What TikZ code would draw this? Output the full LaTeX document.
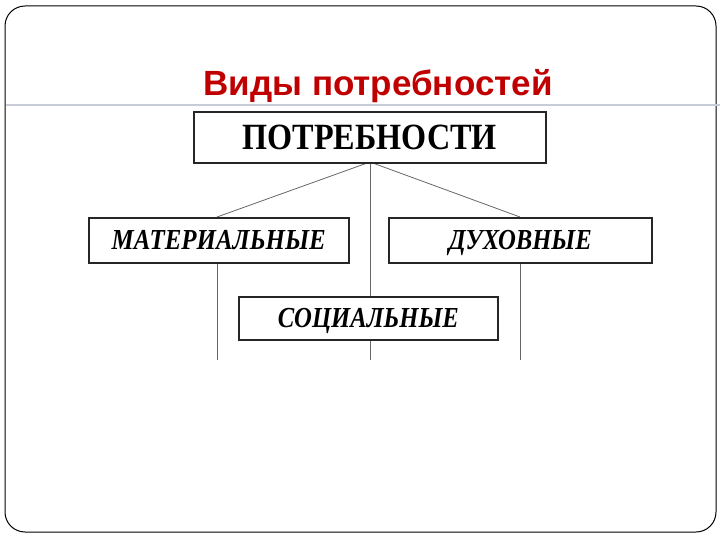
\documentclass[tikz,border=0pt]{standalone}
\usepackage{fontspec}
\setmainfont{Liberation Serif}
\newfontfamily\titlefont{Liberation Sans}
\definecolor{titlered}{RGB}{192,0,0}
\definecolor{sepline}{RGB}{200,204,216}
\begin{document}
\begin{tikzpicture}[x=1pt,y=-1pt,
  catbox/.style={draw=black!85, line width=1.6pt, fill=white, inner sep=0pt, anchor=north west, text depth=0pt},
  sublabel/.style={font=\bfseries\itshape\fontsize{29}{32}\selectfont, text height=19.2pt},
  link/.style={draw=black!60, line width=0.8pt}]
\useasboundingbox (0,0) rectangle (720,540);
% frame
\draw[line width=1pt, rounded corners=20pt] (5,6) rectangle (716,532);
\draw[sepline, line width=1.2pt] (6,105) -- (720,105);
% title
\node[text=titlered, font=\titlefont\bfseries\fontsize{35}{38}\selectfont, anchor=base, inner sep=0pt] (title) at (378,96) {Виды потребностей};
% links
\coordinate (split) at (370,162);
\coordinate (endL) at (217,360);
\coordinate (endC) at (370,360);
\coordinate (endR) at (520,360);
\coordinate (topL) at (217,217);
\coordinate (topR) at (520,217);
\draw[link] (split) -- (topL);
\draw[link] (split) -- (topR);
\draw[link] (split) -- (endC);
\draw[link] (topL) -- (endL);
\draw[link] (topR) -- (endR);
% boxes
\node[catbox, minimum width=352pt, minimum height=51pt, text height=24.5pt, font=\bfseries\fontsize{37}{40}\selectfont] (need) at (193,111) {\scalebox{0.87}[1]{ПОТРЕБНОСТИ}};
\node[catbox, sublabel, minimum width=260pt, minimum height=45pt] (mat) at (88,217) {\scalebox{0.86}[1]{МАТЕРИАЛЬНЫЕ}};
\node[catbox, sublabel, minimum width=263pt, minimum height=45pt] (spir) at (388,217) {\scalebox{0.85}[1]{ДУХОВНЫЕ}};
\node[catbox, sublabel, minimum width=259pt, minimum height=43pt] (soc) at (238,296) {\scalebox{0.85}[1]{СОЦИАЛЬНЫЕ}};
\end{tikzpicture}
\end{document}
